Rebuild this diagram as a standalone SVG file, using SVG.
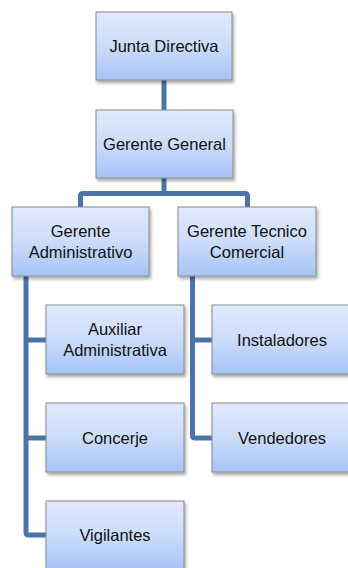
<svg xmlns="http://www.w3.org/2000/svg" width="348" height="568" viewBox="0 0 348 568">
<defs>
<linearGradient id="g" x1="0" y1="0" x2="0" y2="1">
<stop offset="0" stop-color="#e1eafc"/>
<stop offset="0.5" stop-color="#ccdcfa"/>
<stop offset="1" stop-color="#a6c3f7"/>
</linearGradient>
<filter id="sh" x="-10%" y="-10%" width="125%" height="130%">
<feDropShadow dx="1.5" dy="2.5" stdDeviation="1.8" flood-color="#000" flood-opacity="0.35"/>
</filter>
</defs>
<style>
.box{fill:url(#g);stroke:#8a8a8a;stroke-width:1;filter:url(#sh)}
.t{font-family:"Liberation Sans",Arial,sans-serif;font-size:16.5px;fill:#111;text-anchor:middle}
.c{fill:none;stroke:#4a74a8;stroke-width:5;stroke-linejoin:round}
</style>
<g id="connectors">
<path class="c" d="M164 80 V110"/>
<path class="c" d="M164 178 V193.5"/>
<path class="c" d="M80.5 207 V196 Q80.5 193.5 83 193.5 H245 Q247.5 193.5 247.5 196 V207"/>
<path class="c" d="M26 276 V532.5 Q26 535 28.5 535 H46"/>
<path class="c" d="M26 340 H46"/>
<path class="c" d="M26 438 H46"/>
<path class="c" d="M192.5 276 V435.5 Q192.5 438 195 438 H212"/>
<path class="c" d="M192.5 340 H212"/>
</g>
<g id="n1"><rect class="box" x="96" y="12" width="136" height="68"/><text class="t" x="164" y="52">Junta Directiva</text></g>
<g id="n2"><rect class="box" x="96" y="110" width="137" height="68"/><text class="t" x="164.5" y="150">Gerente General</text></g>
<g id="n3"><rect class="box" x="12" y="207" width="137" height="69"/><text class="t" x="80.5" y="236.5">Gerente</text><text class="t" x="80.5" y="257.5">Administrativo</text></g>
<g id="n4"><rect class="box" x="178" y="207" width="138" height="69"/><text class="t" x="247" y="236.5">Gerente Tecnico</text><text class="t" x="247" y="257.5">Comercial</text></g>
<g id="n5"><rect class="box" x="46" y="305" width="138" height="69"/><text class="t" x="115" y="334.5">Auxiliar</text><text class="t" x="115" y="355.5">Administrativa</text></g>
<g id="n6"><rect class="box" x="212" y="305" width="138" height="69"/><text class="t" x="282" y="346">Instaladores</text></g>
<g id="n7"><rect class="box" x="46" y="403" width="138" height="69"/><text class="t" x="115" y="444">Concerje</text></g>
<g id="n8"><rect class="box" x="212" y="403" width="138" height="69"/><text class="t" x="282" y="444">Vendedores</text></g>
<g id="n9"><rect class="box" x="46" y="501" width="138" height="69"/><text class="t" x="115" y="541">Vigilantes</text></g>
</svg>
